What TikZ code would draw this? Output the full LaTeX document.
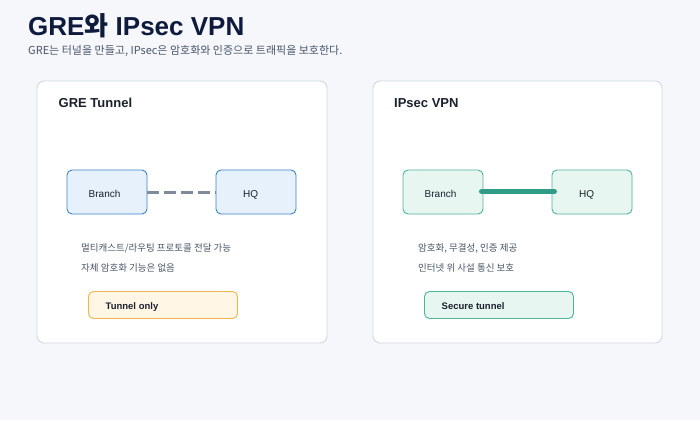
\documentclass[tikz,border=0pt]{standalone}
\usepackage{fontspec}
\setmainfont{Liberation Sans}
\newfontfamily\kr{Noto Sans CJK KR}
\definecolor{bgc}{HTML}{F5F7FB}
\definecolor{titlec}{HTML}{0F1B3D}
\definecolor{subc}{HTML}{4A5568}
\definecolor{panelb}{HTML}{CFD8E3}
\definecolor{bluef}{HTML}{E6F1FC}
\definecolor{blueb}{HTML}{3A84C6}
\definecolor{tealf}{HTML}{E8F6F1}
\definecolor{tealb}{HTML}{4DB39A}
\definecolor{teall}{HTML}{2E9C86}
\definecolor{grayl}{HTML}{7F8A9A}
\definecolor{orf}{HTML}{FFF6E6}
\definecolor{orb}{HTML}{F0B44C}
\definecolor{textc}{HTML}{1A202C}
\begin{document}
\begin{tikzpicture}[x=1pt,y=-1pt,
  panel/.style={draw=panelb,fill=white,rounded corners=7pt,line width=0.9pt},
  gbox/.style={draw=blueb,fill=bluef,rounded corners=5pt,line width=0.9pt},
  tbox/.style={draw=tealb,fill=tealf,rounded corners=5pt,line width=0.9pt},
  obox/.style={draw=orb,fill=orf,rounded corners=5pt,line width=0.9pt},
  sbox/.style={draw=tealb,fill=tealf,rounded corners=5pt,line width=0.9pt},
  lbl/.style={anchor=base west,inner sep=0pt,font=\fontsize{10}{12}\selectfont,text=textc},
  note/.style={anchor=base west,inner sep=0pt,font=\kr\fontsize{9.5}{11}\selectfont,text=subc},
  head/.style={anchor=base west,inner sep=0pt,font=\bfseries\fontsize{13}{15}\selectfont,text=textc},
  tag/.style={anchor=base west,inner sep=0pt,font=\bfseries\fontsize{9.5}{11}\selectfont,text=textc}]
\useasboundingbox (0,0) rectangle (700,420);
\fill[bgc] (0,0) rectangle (700,420);
\node[anchor=base west,inner sep=0pt,text=titlec,font=\bfseries\fontsize{26}{30}\selectfont] (title) at (28,36) {GRE{\kr 와} IPsec VPN};
\node[anchor=base west,inner sep=0pt,text=subc,font=\kr\fontsize{11}{13}\selectfont] (sub) at (28,55) {GRE는 터널을 만들고, IPsec은 암호화와 인증으로 트래픽을 보호한다.};
% left panel
\draw[panel] (37,81) rectangle (327,343);
\node[head] (h1) at (58.5,107) {GRE Tunnel};
\draw[gbox] (67,170) rectangle (147,214);
\node[lbl] (b1t) at (88.5,197) {Branch};
\draw[gbox] (216,170) rectangle (296,214);
\node[lbl] (hq1t) at (243,197) {HQ};
\coordinate (l1a) at (147,192);
\coordinate (l1b) at (216,192);
\draw[grayl,line width=3pt,dash pattern=on 12pt off 5pt] (l1a) -- (l1b);
\node[note] (n1) at (81,251) {멀티캐스트/라우팅 프로토콜 전달 가능};
\node[note] (n2) at (81,271) {자체 암호화 기능은 없음};
\draw[obox] (88.5,291.5) rectangle (237.5,318.5);
\node[tag] (t1) at (105.5,309) {Tunnel only};
% right panel
\draw[panel] (373,81) rectangle (662,343);
\node[head] (h2) at (394,107) {IPsec VPN};
\draw[tbox] (403,170) rectangle (483,214);
\node[lbl] (b2t) at (424.5,197) {Branch};
\draw[tbox] (552,170) rectangle (632,214);
\node[lbl] (hq2t) at (579,197) {HQ};
\coordinate (l2a) at (481.5,191.5);
\coordinate (l2b) at (554.5,191.5);
\draw[teall,line width=5pt,line cap=round] (l2a) -- (l2b);
\node[note] (n3) at (418,251) {암호화, 무결성, 인증 제공};
\node[note] (n4) at (418,271) {인터넷 위 사설 통신 보호};
\draw[sbox] (424.5,291.5) rectangle (573.5,318.5);
\node[tag] (t2) at (441.5,309) {Secure tunnel};
\end{tikzpicture}
\end{document}
